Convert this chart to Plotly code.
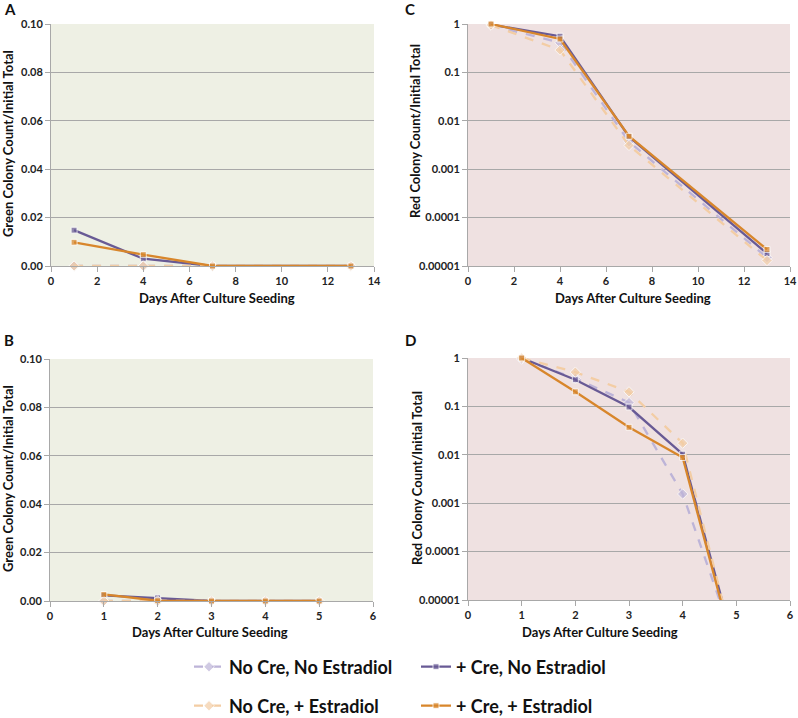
import plotly.graph_objects as go

# ---------------- data ----------------
days_ac = [1, 4, 7, 13]
days_bd = [1, 2, 3, 4, 5]

series_names = ["No Cre, No Estradiol", "+ Cre, No Estradiol",
                "No Cre, + Estradiol", "+ Cre, + Estradiol"]

# Panel A (green, linear)
A_nocre_noe = [0, 0, 0, 0]
A_cre_noe = [0.0148, 0.0030, 0, 0]
A_nocre_e = [0, 0, 0, 0]
A_cre_e = [0.0098, 0.0047, 0, 0]

# Panel B (green, linear)
B_nocre_noe = [0, 0, 0, 0, 0]
B_cre_noe = [0.0023, 0.0013, 0, 0, 0]
B_nocre_e = [0, 0, 0, 0, 0]
B_cre_e = [0.0027, 0.0001, 0, 0, 0]

# Panel C (red, log)
C_nocre_noe = [0.95, 0.41, 0.0037, 0.000015]
C_cre_noe = [0.97, 0.56, 0.0047, 0.000018]
C_nocre_e = [0.95, 0.29, 0.0031, 0.000013]
C_cre_e = [1.0, 0.49, 0.0048, 0.000022]

# Panel D (red, log)
D_nocre_noe = [0.95, 0.38, 0.12, 0.00155, 0.000001]
D_cre_noe = [1.0, 0.356, 0.097, 0.0103, 0.0000008]
D_nocre_e = [1.0, 0.51, 0.20, 0.0174, 0.0000007]
D_cre_e = [1.0, 0.20, 0.037, 0.0088, 0.0000006]

log_tickvals = [0.00001, 0.0001, 0.001, 0.01, 0.1, 1]
log_ticktext = ["0.00001", "0.0001", "0.001", "0.01", "0.1", "1"]
lin_tickvals = [0, 0.02, 0.04, 0.06, 0.08, 0.10]
lin_ticktext = ["0.00", "0.02", "0.04", "0.06", "0.08", "0.10"]

# ---------------- style ----------------
C_LPURPLE = "#bdb4d8"
C_PURPLE = "#685a95"
C_LORANGE = "#f3cda4"
C_ORANGE = "#d8862b"
GREEN_BG = "#eef0e4"
RED_BG = "#efe1e1"
GRID = "#a8a8a8"
FONT = "Lato"

styles = [
    dict(color=C_LPURPLE, dash="dash", symbol="diamond", size=8),
    dict(color=C_PURPLE, dash="solid", symbol="square", size=6),
    dict(color=C_LORANGE, dash="dash", symbol="diamond", size=8),
    dict(color=C_ORANGE, dash="solid", symbol="square", size=6),
]
legends = ["legend", "legend", "legend2", "legend2"]

W, H = 798, 718

def px_x(a, b):
    return [a / W, b / W]

def px_y(top, bottom):
    return [1 - bottom / H, 1 - top / H]

fig = go.Figure()

panels = [
    ("x", "y", days_ac, [A_nocre_noe, A_cre_noe, A_nocre_e, A_cre_e], True),
    ("x2", "y2", days_ac, [C_nocre_noe, C_cre_noe, C_nocre_e, C_cre_e], False),
    ("x3", "y3", days_bd, [B_nocre_noe, B_cre_noe, B_nocre_e, B_cre_e], False),
    ("x4", "y4", days_bd, [D_nocre_noe, D_cre_noe, D_nocre_e, D_cre_e], False),
]

for xa, ya, xs, ser, show in panels:
    for i, ys in enumerate(ser):
        st = styles[i]
        sizes = [st["size"] if (v == 0 or v >= 0.00001) else 0 for v in ys]
        fig.add_trace(go.Scatter(
            x=xs, y=ys, xaxis=xa, yaxis=ya, mode="lines+markers",
            name=series_names[i], showlegend=show, legend=legends[i],
            line=dict(color=st["color"], width=2.3, dash=st["dash"]),
            marker=dict(color=st["color"], symbol=st["symbol"], size=sizes),
            cliponaxis=False,
        ))

tickfont = dict(family=FONT, size=11, color="#222222", weight="bold")
common_x = dict(showline=True, linecolor=GRID, linewidth=1, ticks="outside",
                ticklen=5, tickcolor=GRID, showgrid=False, zeroline=False,
                tickfont=tickfont, fixedrange=True, automargin=False)
common_y = dict(showline=True, linecolor=GRID, linewidth=1, ticks="outside",
                ticklen=5, tickcolor=GRID, showgrid=True, gridcolor=GRID,
                gridwidth=1, zeroline=False, tickfont=tickfont, fixedrange=True,
                automargin=False)

legend_common = dict(orientation="h", xanchor="left", yanchor="middle",
                     entrywidth=182, entrywidthmode="pixels", bgcolor="rgba(0,0,0,0)",
                     font=dict(family=FONT, size=18, color="#111111", weight="bold"),
                     itemwidth=30, traceorder="normal")

fig.update_layout(
    width=W, height=H, margin=dict(l=0, r=0, t=0, b=0, autoexpand=False),
    paper_bgcolor="white", plot_bgcolor=GREEN_BG,
    font=dict(family=FONT),
    xaxis=dict(domain=px_x(51, 374), range=[0, 14], dtick=2, anchor="y", **common_x),
    yaxis=dict(domain=px_y(24, 266), range=[0, 0.1], tickvals=lin_tickvals,
               ticktext=lin_ticktext, anchor="x", **common_y),
    xaxis2=dict(domain=px_x(468, 790), range=[0, 14], dtick=2, anchor="y2", **common_x),
    yaxis2=dict(domain=px_y(24, 266), type="log", range=[-5, 0], tickvals=log_tickvals,
                ticktext=log_ticktext, anchor="x2", **common_y),
    xaxis3=dict(domain=px_x(50, 373), range=[0, 6], dtick=1, anchor="y3", **common_x),
    yaxis3=dict(domain=px_y(359, 601), range=[0, 0.1], tickvals=lin_tickvals,
                ticktext=lin_ticktext, anchor="x3", **common_y),
    xaxis4=dict(domain=px_x(468, 790), range=[0, 6], dtick=1, anchor="y4", **common_x),
    yaxis4=dict(domain=px_y(358, 600), type="log", range=[-5, 0], tickvals=log_tickvals,
                ticktext=log_ticktext, anchor="x4", **common_y),
    legend=dict(x=189 / W, y=1 - 667 / H, **legend_common),
    legend2=dict(x=189 / W, y=1 - 706 / H, **legend_common),
)

# red backgrounds for C and D via shapes behind plots
for xa, ya in [("x2", "y2"), ("x4", "y4")]:
    fig.add_shape(type="rect", xref=f"{xa} domain", yref=f"{ya} domain",
                  x0=0, x1=1, y0=0, y1=1, fillcolor=RED_BG, line_width=0, layer="below")

ann_font_title = dict(family=FONT, size=13, color="#111111", weight="bold")
annotations = [
    dict(text="A", x=2 / W, y=1 - 9 / H),
    dict(text="C", x=403 / W, y=1 - 9 / H),
    dict(text="B", x=2 / W, y=1 - 340 / H),
    dict(text="D", x=403 / W, y=1 - 340 / H),
]
for a in annotations:
    fig.add_annotation(xref="paper", yref="paper", xanchor="left", yanchor="middle",
                       showarrow=False, font=dict(family=FONT, size=15, color="#111111",
                                                  weight="bold"), **a)

titles = [
    ("Days After Culture Seeding", 217, 298, 0),
    ("Days After Culture Seeding", 633, 298, 0),
    ("Days After Culture Seeding", 210, 632, 0),
    ("Days After Culture Seeding", 600, 632, 0),
    ("Green Colony Count/Initial Total", 8, 144, -90),
    ("Red Colony Count/Initial Total", 415, 131, -90),
    ("Green Colony Count/Initial Total", 8, 479, -90),
    ("Red Colony Count/Initial Total", 417, 478, -90),
]
for t, xp, yp, ang in titles:
    fig.add_annotation(xref="paper", yref="paper", x=xp / W, y=1 - yp / H,
                       xanchor="center", yanchor="middle", text=t, textangle=ang,
                       showarrow=False, font=ann_font_title)

fig.write_html("out.html", config={"displayModeBar": False},
               post_script="document.body.style.margin='0px';")
